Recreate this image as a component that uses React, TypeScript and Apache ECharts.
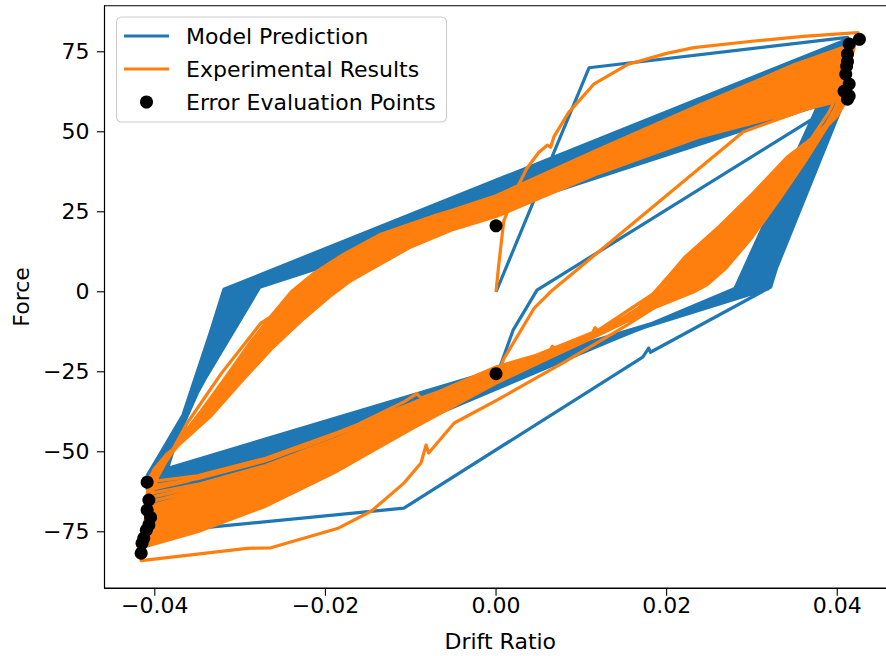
import React, { useEffect, useRef } from "react";
import * as echarts from "echarts";

type P = [number, number];

// ---------- axes ----------
const xRange = [-0.0459, 0.0469];
const yRange = [-92.6, 89.4];
const xTicks = [-0.04, -0.02, 0, 0.02, 0.04];
const yTicks = [-75, -50, -25, 0, 25, 50, 75];

// ---------- Model Prediction (blue) ----------
const modelInitial: P[] = [
  [0, 0], [0.0109, 70], [0.0412, 79.5], [0.0322, 1.5], [0.0181, -18.9], [0.0179, -17.6],
  [0.0172, -20.4], [-0.0108, -67.6], [-0.0409, -75.5],
];
const modelCycles: P[] = [
  [-0.0319, 0.8], [0.0413, 79], [0.028, 1.0], [-0.0415, -77],
  [-0.0318, 0.9], [0.0411, 78.3], [0.0282, 1.1], [-0.0414, -76.2],
  [-0.0316, 0.9], [0.0412, 77.6], [0.0283, 1.1], [-0.0414, -75.4],
  [-0.0314, 1.0], [0.0413, 76.9], [0.0285, 1.0], [-0.0413, -74.6],
  [-0.0313, 0.9], [0.0413, 76.2], [0.0286, 1.0], [-0.0412, -73.8],
  [-0.0311, 1.1], [0.0411, 75.6], [0.0288, 1.1], [-0.0411, -73],
  [-0.0309, 1.0], [0.0411, 74.9], [0.0289, 1.2], [-0.0411, -72.1],
  [-0.0308, 1.0], [0.0412, 74.2], [0.0291, 1.0], [-0.041, -71.3],
  [-0.0306, 1.1], [0.0412, 73.5], [0.0292, 1.1], [-0.041, -70.5],
  [-0.0305, 1.2], [0.0411, 72.8], [0.0294, 1.0], [-0.0409, -69.7],
  [-0.0303, 1.0], [0.041, 72.1], [0.0295, 1.0], [-0.0408, -68.9],
  [-0.0302, 1.1], [0.0412, 71.4], [0.0297, 0.9], [-0.0409, -68.1],
  [-0.03, 1.2], [0.0413, 70.7], [0.0298, 1.1], [-0.0409, -67.3],
  [-0.0298, 1.1], [0.0412, 70], [0.03, 1.0], [-0.0408, -66.5],
  [-0.0296, 1.1], [0.0411, 69.3], [0.0301, 0.9], [-0.0407, -65.6],
  [-0.0295, 1.2], [0.0412, 68.7], [0.0303, 1.0], [-0.0408, -64.8],
  [-0.0293, 1.2], [0.0414, 68], [0.0304, 1.0], [-0.0409, -64],
  [-0.0292, 1.3], [0.0412, 67.3], [0.0306, 0.9], [-0.0408, -63.2],
  [-0.029, 1.3], [0.0411, 66.6], [0.0307, 0.9], [-0.0408, -62.4],
  [-0.0289, 1.2], [0.0411, 65.9], [0.0309, 1.0], [-0.0409, -61.6],
  [-0.0287, 1.2], [0.041, 65.2], [0.031, 1.0], [-0.0409, -60.8],
  [-0.0285, 1.3], [0.0411, 64.5], [0.0312, 0.9], [-0.0408, -60],
  [-0.0283, 1.3], [0.0412, 63.8], [0.0313, 0.9], [-0.0408, -59.1],
  [-0.0282, 1.4], [0.0412, 63.1], [0.0315, 0.8], [-0.0409, -58.3],
  [-0.028, 1.4], [0.0411, 62.4], [0.0316, 0.8], [-0.0409, -57.5],
  [-0.0279, 1.3], [0.0411, 61.7], [0.0318, 0.9], [-0.0408, -57],
  [-0.0277, 1.4], [0.041, 61], [0.0319, 0.9],
];
const modelFinal: P[] = [
  [0.0002, -25.4], [0.002, -12], [0.0048, 0.5], [0.0367, 53.3], [0.0405, 59.5],
];

// ---------- Experimental Results (orange) ----------
const expVirgin: P[] = [
  [0, 0], [0.0003, 8], [0.0009, 22], [0.0022, 31], [0.0036, 38.5], [0.005, 43.5], [0.006, 45.8],
  [0.0064, 45.2], [0.0068, 48.5], [0.0085, 56], [0.0115, 65], [0.0154, 71], [0.02, 74.5],
  [0.0232, 76.3], [0.03, 78.3], [0.036, 79.8], [0.0424, 81],
];
const expFirst: P[] = [
  [0.0412, 68], [0.039, 56], [0.0355, 42], [0.0312, 26], [0.0272, 12], [0.024, 3.5], [0.0215, 0],
  [0.015, -11], [0.008, -22], [0.003, -29.5], [0, -34], [-0.0049, -41], [-0.0079, -50.4],
  [-0.0082, -47.9], [-0.0088, -53.5], [-0.0108, -59.8], [-0.0146, -68.5], [-0.0186, -74],
  [-0.0264, -80], [-0.0292, -80.2], [-0.035, -82], [-0.0416, -84], [-0.041, -72], [-0.0401, -60],
  [-0.0362, -41], [-0.0322, -25.5], [-0.0276, -9.9], [-0.024, -3.6], [-0.021, 0.5], [-0.0185, 6],
  [-0.0163, 13.5], [-0.0108, 20.5], [0, 30], [0.012, 44.5], [0.024, 58.5], [0.035, 71],
];
const expLoop0: P[] = [
  [0.0414, 77], [0.0405, 62], [0.039, 52.5], [0.0363, 41], [0.0334, 29.6], [0.03, 17], [0.027, 7.5],
  [0.0248, 2.3], [0.0232, 0], [0.019, -4.5], [0.012, -13.5], [0.0064, -20.5], [0, -28.5],
  [-0.01, -43], [-0.0186, -56], [-0.027, -67], [-0.035, -75], [-0.0416, -80], [-0.041, -70],
  [-0.0398, -58], [-0.0375, -47.5], [-0.0345, -37], [-0.0319, -27.5], [-0.029, -16.5],
  [-0.0262, -7], [-0.024, 0], [-0.0215, 5.5], [-0.018, 11.5], [-0.0135, 18], [-0.007, 24],
  [0, 29.5], [0.012, 43.5], [0.024, 58], [0.034, 69.5],
];
const expLoop0h: P[] = [
  [0.0413, 76.2], [0.0405, 61.7], [0.0389, 52.4], [0.0362, 41.1], [0.0332, 29.7], [0.0298, 17.2],
  [0.0267, 7.7], [0.0245, 2.3], [0.0229, 0], [0.0188, -4.6], [0.012, -13.5], [0.0064, -20.4],
  [0, -28.3], [-0.01, -42.6], [-0.0186, -55.4], [-0.027, -66.3], [-0.035, -74.1], [-0.0416, -79.3],
  [-0.041, -69.3], [-0.0398, -57.7], [-0.0375, -47.4], [-0.0345, -37.1], [-0.0318, -27.6],
  [-0.0289, -16.6], [-0.0261, -7.1], [-0.0238, -0.1], [-0.0213, 5.4], [-0.0178, 11.4],
  [-0.0134, 17.8], [-0.0069, 23.8], [0, 29.2], [0.012, 43.2], [0.024, 57.6], [0.034, 68.9],
];
const expLoop1: P[] = [
  [0.0412, 75.3], [0.0405, 61.4], [0.0389, 52.2], [0.0361, 41.1], [0.0331, 29.7], [0.0296, 17.4],
  [0.0265, 7.9], [0.0243, 2.4], [0.0227, 0], [0.0187, -4.8], [0.012, -13.4], [0.0064, -20.3],
  [0, -28], [-0.01, -42.2], [-0.0186, -54.8], [-0.027, -65.5], [-0.035, -73.3], [-0.0415, -78.5],
  [-0.0409, -68.6], [-0.0397, -57.3], [-0.0374, -47.3], [-0.0344, -37.2], [-0.0317, -27.6],
  [-0.0287, -16.6], [-0.0259, -7.2], [-0.0236, -0.2], [-0.0211, 5.3], [-0.0176, 11.2],
  [-0.0132, 17.6], [-0.0068, 23.6], [0, 28.9], [0.012, 42.9], [0.024, 57.1], [0.034, 68.2],
];
const expLoop1h: P[] = [
  [0.0412, 74.5], [0.0404, 61.1], [0.0388, 52.1], [0.036, 41.2], [0.0329, 29.8], [0.0294, 17.6],
  [0.0262, 8.1], [0.024, 2.5], [0.0225, 0], [0.0185, -4.9], [0.012, -13.4], [0.0064, -20.2],
  [0, -27.8], [-0.01, -41.8], [-0.0186, -54.2], [-0.027, -64.8], [-0.035, -72.4], [-0.0414, -77.7],
  [-0.0409, -67.9], [-0.0396, -56.9], [-0.0373, -47.2], [-0.0344, -37.3], [-0.0316, -27.7],
  [-0.0286, -16.7], [-0.0257, -7.3], [-0.0234, -0.3], [-0.0209, 5.2], [-0.0174, 11],
  [-0.013, 17.4], [-0.0067, 23.4], [0, 28.6], [0.012, 42.6], [0.024, 56.6], [0.034, 67.4],
];
const expLoop2: P[] = [
  [0.0413, 73.6], [0.0404, 60.7], [0.0388, 51.9], [0.0359, 41.2], [0.0328, 29.9], [0.0292, 17.7],
  [0.026, 8.2], [0.0238, 2.5], [0.0223, 0], [0.0184, -5], [0.012, -13.3], [0.0064, -20.1],
  [0, -27.5], [-0.01, -41.4], [-0.0186, -53.6], [-0.027, -64], [-0.035, -71.5], [-0.0413, -77],
  [-0.0408, -67.1], [-0.0395, -56.5], [-0.0372, -47.1], [-0.0343, -37.4], [-0.0315, -27.7],
  [-0.0284, -16.7], [-0.0255, -7.4], [-0.0231, -0.3], [-0.0206, 5.1], [-0.0172, 10.8],
  [-0.0128, 17.2], [-0.0066, 23.1], [0, 28.3], [0.012, 42.2], [0.024, 56.1], [0.034, 66.7],
];
const expLoop2h: P[] = [
  [0.0412, 72.8], [0.0404, 60.4], [0.0387, 51.8], [0.0357, 41.3], [0.0326, 30], [0.029, 17.9],
  [0.0258, 8.4], [0.0235, 2.6], [0.022, 0], [0.0182, -5.1], [0.012, -13.2], [0.0064, -20],
  [0, -27.3], [-0.01, -41], [-0.0186, -53], [-0.027, -63.3], [-0.035, -70.7], [-0.0412, -76],
  [-0.0408, -66.4], [-0.0395, -56.2], [-0.0372, -47], [-0.0343, -37.5], [-0.0314, -27.8],
  [-0.0283, -16.8], [-0.0254, -7.5], [-0.0229, -0.4], [-0.0204, 5], [-0.017, 10.7],
  [-0.0127, 17], [-0.0065, 22.9], [0, 28], [0.012, 41.9], [0.024, 55.7], [0.034, 66.1],
];
const expLoop3: P[] = [
  [0.0411, 71.9], [0.0404, 60.1], [0.0386, 51.6], [0.0356, 41.3], [0.0324, 30], [0.0289, 18.1],
  [0.0256, 8.6], [0.0233, 2.7], [0.0218, 0], [0.0181, -5.3], [0.012, -13.2], [0.0064, -19.9],
  [0, -27], [-0.01, -40.6], [-0.0186, -52.4], [-0.027, -62.5], [-0.035, -69.8], [-0.0411, -75],
  [-0.0407, -65.7], [-0.0394, -55.8], [-0.0371, -46.9], [-0.0342, -37.6], [-0.0313, -27.8],
  [-0.0282, -16.8], [-0.0252, -7.6], [-0.0227, -0.5], [-0.0202, 4.9], [-0.0168, 10.5],
  [-0.0125, 16.8], [-0.0064, 22.7], [0, 27.7], [0.012, 41.6], [0.024, 55.2], [0.034, 65.4],
];
const expLoop3h: P[] = [
  [0.0413, 71], [0.0403, 59.8], [0.0385, 51.5], [0.0355, 41.4], [0.0322, 30.1], [0.0287, 18.3],
  [0.0253, 8.8], [0.023, 2.7], [0.0216, 0], [0.0179, -5.4], [0.012, -13.1], [0.0064, -19.8],
  [0, -26.8], [-0.01, -40.2], [-0.0186, -51.8], [-0.027, -61.8], [-0.035, -68.9], [-0.041, -74],
  [-0.0407, -65], [-0.0394, -55.4], [-0.0371, -46.8], [-0.0342, -37.7], [-0.0312, -27.9],
  [-0.0281, -16.9], [-0.025, -7.7], [-0.0225, -0.6], [-0.02, 4.8], [-0.0166, 10.3],
  [-0.0123, 16.6], [-0.0063, 22.5], [0, 27.4], [0.012, 41.3], [0.024, 54.7], [0.034, 64.6],
];
const expLoop4: P[] = [
  [0.0412, 70.2], [0.0403, 59.4], [0.0385, 51.3], [0.0354, 41.4], [0.0321, 30.2], [0.0285, 18.4],
  [0.0251, 8.9], [0.0228, 2.8], [0.0214, 0], [0.0178, -5.5], [0.012, -13.1], [0.0064, -19.7],
  [0, -26.5], [-0.01, -39.8], [-0.0186, -51.2], [-0.027, -61], [-0.035, -68], [-0.041, -73],
  [-0.0406, -64.2], [-0.0393, -55], [-0.037, -46.7], [-0.0341, -37.8], [-0.0311, -27.9],
  [-0.0279, -16.9], [-0.0248, -7.8], [-0.0222, -0.6], [-0.0197, 4.7], [-0.0164, 10.1],
  [-0.0121, 16.4], [-0.0062, 22.2], [0, 27.1], [0.012, 40.9], [0.024, 54.2], [0.034, 63.9],
];
const expLoop4h: P[] = [
  [0.0411, 69.3], [0.0403, 59.1], [0.0384, 51.2], [0.0353, 41.5], [0.0319, 30.3], [0.0283, 18.6],
  [0.0248, 9.1], [0.0225, 2.9], [0.0211, 0], [0.0176, -5.6], [0.012, -13], [0.0064, -19.6],
  [0, -26.3], [-0.01, -39.4], [-0.0186, -50.6], [-0.027, -60.3], [-0.035, -67.2], [-0.0409, -72],
  [-0.0406, -63.5], [-0.0393, -54.7], [-0.037, -46.6], [-0.0341, -37.9], [-0.0311, -28],
  [-0.0278, -17], [-0.0247, -7.9], [-0.022, -0.7], [-0.0195, 4.6], [-0.0162, 10],
  [-0.012, 16.2], [-0.0061, 22], [0, 26.8], [0.012, 40.6], [0.024, 53.8], [0.034, 63.3],
];
const expLoop5: P[] = [
  [0.041, 68.5], [0.0403, 58.8], [0.0384, 51], [0.0352, 41.5], [0.0318, 30.3], [0.0281, 18.8],
  [0.0246, 9.3], [0.0223, 2.9], [0.0209, 0], [0.0175, -5.8], [0.012, -13], [0.0064, -19.5],
  [0, -26], [-0.01, -39], [-0.0186, -50], [-0.027, -59.5], [-0.035, -66.3], [-0.0408, -71],
  [-0.0406, -62.8], [-0.0392, -54.3], [-0.0369, -46.5], [-0.034, -38], [-0.031, -28],
  [-0.0276, -17], [-0.0245, -8], [-0.0218, -0.8], [-0.0193, 4.5], [-0.016, 9.8],
  [-0.0118, 16], [-0.006, 21.8], [0, 26.5], [0.012, 40.3], [0.024, 53.3], [0.034, 62.6],
];
const expLoop5h: P[] = [
  [0.0412, 67.6], [0.0402, 58.5], [0.0383, 50.9], [0.0351, 41.6], [0.0316, 30.4], [0.0279, 19],
  [0.0243, 9.5], [0.022, 3], [0.0206, 0], [0.0173, -5.9], [0.012, -13], [0.0064, -19.4],
  [0, -25.8], [-0.01, -38.6], [-0.0186, -49.4], [-0.027, -58.8], [-0.035, -65.4], [-0.0409, -70],
  [-0.0405, -62.1], [-0.0391, -53.9], [-0.0368, -46.4], [-0.034, -38.1], [-0.0309, -28.1],
  [-0.0275, -17.1], [-0.0244, -8.1], [-0.0216, -0.9], [-0.0191, 4.4], [-0.0158, 9.6],
  [-0.0116, 15.8], [-0.0059, 21.6], [0, 26.2], [0.012, 40], [0.024, 52.8], [0.034, 61.8],
];
const expLoop6: P[] = [
  [0.0413, 66.8], [0.0402, 58.1], [0.0383, 50.7], [0.035, 41.6], [0.0315, 30.4], [0.0277, 19.1],
  [0.0241, 9.6], [0.0218, 3], [0.0204, 0], [0.0172, -6], [0.012, -12.9], [0.0064, -19.3],
  [0, -25.5], [-0.01, -38.2], [-0.0186, -48.8], [-0.027, -58], [-0.035, -64.5], [-0.0409, -69],
  [-0.0405, -61.3], [-0.039, -53.5], [-0.0367, -46.3], [-0.0339, -38.2], [-0.0308, -28.1],
  [-0.0273, -17.1], [-0.0242, -8.2], [-0.0213, -0.9], [-0.0188, 4.3], [-0.0156, 9.4],
  [-0.0114, 15.6], [-0.0058, 21.3], [0, 25.9], [0.012, 39.6], [0.024, 52.3], [0.034, 61.1],
];
const expLoop6h: P[] = [
  [0.0412, 66], [0.0402, 57.8], [0.0382, 50.6], [0.0349, 41.7], [0.0313, 30.5], [0.0275, 19.3],
  [0.0238, 9.8], [0.0215, 3.1], [0.0202, 0], [0.017, -6.1], [0.012, -12.9], [0.0064, -19.2],
  [0, -25.3], [-0.01, -37.8], [-0.0186, -48.2], [-0.027, -57.3], [-0.035, -63.7], [-0.0408, -68],
  [-0.0405, -60.6], [-0.039, -53.2], [-0.0367, -46.2], [-0.0339, -38.3], [-0.0307, -28.2],
  [-0.0272, -17.2], [-0.024, -8.3], [-0.0211, -1], [-0.0186, 4.2], [-0.0154, 9.3],
  [-0.0113, 15.4], [-0.0057, 21.1], [0, 25.6], [0.012, 39.3], [0.024, 51.9], [0.034, 60.5],
];
const expLoop7: P[] = [
  [0.0411, 65.1], [0.0402, 57.5], [0.0382, 50.4], [0.0348, 41.7], [0.0312, 30.6], [0.0273, 19.5],
  [0.0236, 10], [0.0213, 3.1], [0.02, 0], [0.0169, -6.3], [0.012, -12.8], [0.0064, -19.1],
  [0, -25], [-0.01, -37.4], [-0.0186, -47.6], [-0.027, -56.5], [-0.035, -62.8], [-0.0407, -67],
  [-0.0404, -59.9], [-0.0389, -52.8], [-0.0366, -46.1], [-0.0338, -38.4], [-0.0306, -28.2],
  [-0.027, -17.2], [-0.0238, -8.4], [-0.0209, -1.1], [-0.0184, 4.1], [-0.0152, 9.1],
  [-0.0111, 15.2], [-0.0056, 20.9], [0, 25.3], [0.012, 39], [0.024, 51.4], [0.034, 59.8],
];
const expLoop7h: P[] = [
  [0.0413, 64.2], [0.0401, 57.2], [0.0381, 50.3], [0.0346, 41.8], [0.031, 30.7], [0.0271, 19.7],
  [0.0234, 10.2], [0.021, 3.2], [0.0197, 0], [0.0167, -6.4], [0.012, -12.8], [0.0064, -19],
  [0, -24.8], [-0.01, -37], [-0.0186, -47], [-0.027, -55.8], [-0.035, -61.9], [-0.0408, -65.8],
  [-0.0404, -59.2], [-0.0389, -52.4], [-0.0366, -46], [-0.0338, -38.5], [-0.0305, -28.3],
  [-0.0269, -17.3], [-0.0237, -8.5], [-0.0207, -1.2], [-0.0182, 4], [-0.015, 8.9],
  [-0.0109, 15], [-0.0055, 20.7], [0, 25], [0.012, 38.7], [0.024, 50.9], [0.034, 59],
];
const expLoop8: P[] = [
  [0.0414, 63.4], [0.0401, 56.8], [0.038, 50.1], [0.0345, 41.8], [0.0308, 30.7], [0.027, 19.8],
  [0.0232, 10.3], [0.0208, 3.3], [0.0195, 0], [0.0166, -6.5], [0.012, -12.7], [0.0064, -18.9],
  [0, -24.5], [-0.01, -36.6], [-0.0186, -46.4], [-0.027, -55], [-0.035, -61], [-0.0409, -64.5],
  [-0.0403, -58.4], [-0.0388, -52], [-0.0365, -45.9], [-0.0337, -38.6], [-0.0304, -28.3],
  [-0.0268, -17.3], [-0.0235, -8.6], [-0.0204, -1.2], [-0.0179, 3.9], [-0.0148, 8.7],
  [-0.0107, 14.8], [-0.0054, 20.4], [0, 24.7], [0.012, 38.3], [0.024, 50.4], [0.034, 58.3],
];
const expLoop8h: P[] = [
  [0.0412, 62.5], [0.0401, 56.5], [0.0379, 50], [0.0344, 41.9], [0.0306, 30.8], [0.0268, 20],
  [0.0229, 10.5], [0.0205, 3.3], [0.0193, 0], [0.0164, -6.6], [0.012, -12.7], [0.0064, -18.8],
  [0, -24.3], [-0.01, -36.2], [-0.0186, -45.8], [-0.027, -54.3], [-0.035, -60.2], [-0.0409, -63.2],
  [-0.0403, -57.7], [-0.0387, -51.7], [-0.0364, -45.8], [-0.0337, -38.7], [-0.0303, -28.4],
  [-0.0267, -17.4], [-0.0233, -8.7], [-0.0202, -1.3], [-0.0177, 3.8], [-0.0146, 8.6],
  [-0.0106, 14.6], [-0.0053, 20.2], [0, 24.4], [0.012, 38], [0.024, 50], [0.034, 57.7],
];
const expLoop9: P[] = [
  [0.0411, 61.7], [0.0401, 56.2], [0.0379, 49.8], [0.0343, 41.9], [0.0305, 30.9], [0.0266, 20.2],
  [0.0227, 10.7], [0.0203, 3.4], [0.0195, -0.8], [0.019, 1.2], [0.0186, -1.8], [0.015, -8],
  [0.012, -12.4], [0.0116, -11.2], [0.0112, -13.5], [0.007, -17.8], [0.0066, -17], [0.0062, -19],
  [0, -24.8], [-0.0088, -33.2], [-0.0093, -31.8], [-0.0096, -32.4], [-0.0108, -34.4],
  [-0.0186, -44.6], [-0.0225, -48.6], [-0.0284, -53.6], [-0.031, -55.2], [-0.036, -59],
  [-0.0408, -62], [-0.0402, -57], [-0.0386, -51.3], [-0.0363, -45.7], [-0.0336, -38.8],
  [-0.0302, -28.4], [-0.0265, -17.4], [-0.0231, -8.8], [-0.02, -1.4], [-0.0175, 3.7],
  [-0.0144, 8.4], [-0.0104, 14.4], [-0.0052, 20], [0, 24.1], [0.012, 37.7], [0.024, 49.5],
  [0.034, 57],
];
const expLoop9h: P[] = [
  [0.0411, 60.9], [0.04, 55.9], [0.0378, 49.7], [0.0342, 42], [0.0303, 31], [0.0264, 20.4],
  [0.0224, 10.9], [0.02, 3.5], [0.0188, 0], [0.0161, -6.9], [0.012, -12.6], [0.0064, -18.6],
  [0, -23.8], [-0.01, -35.4], [-0.0186, -44.6], [-0.027, -52.8], [-0.035, -58.4], [-0.0408, -60.8],
  [-0.0402, -56.3], [-0.0386, -50.9], [-0.0363, -45.6], [-0.0336, -38.9], [-0.0301, -28.5],
  [-0.0264, -17.5], [-0.023, -8.9], [-0.0198, -1.5], [-0.0173, 3.6], [-0.0142, 8.2],
  [-0.0102, 14.2], [-0.0051, 19.8], [0, 23.8], [0.012, 37.4], [0.024, 49], [0.034, 56.2],
];
const expLoop10: P[] = [
  [0.041, 60], [0.04, 55.5], [0.0378, 49.5], [0.0341, 42], [0.0302, 31], [0.0262, 20.5],
  [0.0222, 11], [0.0198, 3.5], [0.0186, 0], [0.016, -7], [0.012, -12.5], [0.0064, -18.5],
  [0, -23.5], [-0.01, -35], [-0.0186, -44], [-0.027, -52], [-0.035, -57.5], [-0.0409, -59.5],
  [-0.0401, -55.5], [-0.0385, -50.5], [-0.0362, -45.5], [-0.0335, -39], [-0.03, -28.5],
  [-0.0262, -17.5], [-0.0228, -9], [-0.0195, -1.5], [-0.017, 3.5], [-0.014, 8], [-0.01, 14],
  [-0.005, 19.5], [0, 23.5], [0.012, 37], [0.024, 48.5], [0.034, 55.5],
];
const expFinal: P[] = [
  [0.0412, 60.3], [0.04, 55], [0.0378, 49], [0.034, 41], [0.0303, 30.5], [0.0262, 20],
  [0.0222, 10.5], [0.0196, 3], [0.0185, -0.5], [0.012, -12], [0.005, -19.5], [0.0004, -24.8],
  [0.0009, -21], [0.0045, -5], [0.0066, 0.5], [0.029, 50], [0.0405, 61],
];

// ---------- Error Evaluation Points (black) ----------
const errPos: P[] = [
  [0.0426, 78.9], [0.0414, 77.4], [0.0412, 74.3], [0.0412, 72.0], [0.0411, 70.5], [0.041, 68.0],
  [0.0414, 64.9], [0.0408, 62.7], [0.0414, 61.2], [0.0412, 60.2],
];
const errNeg: P[] = [
  [-0.0409, -59.5], [-0.0407, -65.1], [-0.0409, -68.2], [-0.0405, -70.5], [-0.0407, -72.9],
  [-0.041, -74.5], [-0.0413, -77.0], [-0.0415, -78.6], [-0.0416, -81.7],
];
const errMid: P[] = [[0, 20.6], [0, -25.6]];

const BLUE = "#1f77b4";
const ORANGE = "#ff7f0e";
const FONT = "DejaVu Sans";
const LW = 3.2;
const TICK_LEN = 7.7;
const TICK_W = 1.1;

const minus = (s: string) => s.replace("-", "\u2212");

const legendGraphics = [
  {
    type: "rect",
    z: 100,
    shape: { x: 116.5, y: 17, width: 330, height: 105, r: 5 },
    style: { fill: "rgba(255,255,255,0.8)", stroke: "#cccccc", lineWidth: 1.1 },
  },
  { type: "line", z: 101, shape: { x1: 124, y1: 36, x2: 169, y2: 36 }, style: { stroke: BLUE, lineWidth: LW } },
  {
    type: "text", z: 101, x: 186, y: 36,
    style: { text: "Model Prediction", fontFamily: FONT, fontSize: 22, fill: "#000", verticalAlign: "middle" },
  },
  { type: "line", z: 101, shape: { x1: 124, y1: 69, x2: 169, y2: 69 }, style: { stroke: ORANGE, lineWidth: LW } },
  {
    type: "text", z: 101, x: 186, y: 69,
    style: { text: "Experimental Results", fontFamily: FONT, fontSize: 22, fill: "#000", verticalAlign: "middle" },
  },
  { type: "circle", z: 101, shape: { cx: 146.5, cy: 102, r: 6.5 }, style: { fill: "#000" } },
  {
    type: "text", z: 101, x: 186, y: 102,
    style: { text: "Error Evaluation Points", fontFamily: FONT, fontSize: 22, fill: "#000", verticalAlign: "middle" },
  },
];

export default function App() {
  const ref = useRef<HTMLDivElement>(null);

  useEffect(() => {
    if (!ref.current) return;
    const chart = echarts.init(ref.current, null, { renderer: "svg" });
    const modelData = [...modelInitial, ...modelCycles, ...modelFinal];
    const expData = [
      ...expVirgin, ...expFirst,
      ...expLoop0, ...expLoop0h, ...expLoop1, ...expLoop1h, ...expLoop2, ...expLoop2h,
      ...expLoop3, ...expLoop3h, ...expLoop4, ...expLoop4h, ...expLoop5, ...expLoop5h,
      ...expLoop6, ...expLoop6h, ...expLoop7, ...expLoop7h, ...expLoop8, ...expLoop8h,
      ...expLoop9, ...expLoop9h, ...expLoop10, ...expFinal,
    ];
    const errData = [...errPos, ...errNeg, ...errMid];
    const xTickMarks = xTicks.map((v) => [v, yRange[0]]);
    const yTickMarks = yTicks.map((v) => [xRange[0], v]);

    const textStyle = { fontFamily: FONT, fontSize: 22, color: "#000" };
    const axisLine = { show: true, onZero: false, lineStyle: { color: "#000", width: 1.1 } };

    chart.setOption({
      animation: false,
      backgroundColor: "#fff",
      grid: {
        left: 104.5,
        top: 5.7,
        width: 791.6,
        height: 582.4,
        show: true,
        borderColor: "#000",
        borderWidth: 1.1,
        backgroundColor: "transparent",
        outerBoundsMode: "none",
        containLabel: false,
      },
      xAxis: {
        type: "value",
        position: "bottom",
        min: xRange[0],
        max: xRange[1],
        name: "Drift Ratio",
        nameLocation: "middle",
        nameGap: 42,
        nameTextStyle: textStyle,
        axisLine,
        axisTick: { show: false },
        axisLabel: {
          ...textStyle,
          margin: 6,
          customValues: xTicks,
          formatter: (v: number) => minus(v.toFixed(2)),
        },
        splitLine: { show: false },
      },
      yAxis: {
        type: "value",
        position: "left",
        min: yRange[0],
        max: yRange[1],
        name: "Force",
        nameLocation: "middle",
        nameGap: 65,
        nameRotate: 90,
        nameTextStyle: textStyle,
        axisLine,
        axisTick: { show: false },
        axisLabel: {
          ...textStyle,
          margin: 15,
          customValues: yTicks,
          formatter: (v: number) => minus(String(Math.round(v))),
        },
        splitLine: { show: false },
      },
      series: [
        {
          name: "Model Prediction",
          type: "line",
          data: modelData,
          showSymbol: false,
          symbol: "none",
          silent: true,
          lineStyle: { color: BLUE, width: LW, join: "round", cap: "butt" },
          z: 2,
        },
        {
          name: "Experimental Results",
          type: "line",
          data: expData,
          showSymbol: false,
          symbol: "none",
          silent: true,
          lineStyle: { color: ORANGE, width: LW, join: "round", cap: "butt" },
          z: 3,
        },
        {
          name: "Error Evaluation Points",
          type: "scatter",
          data: errData,
          symbol: "circle",
          symbolSize: 13,
          silent: true,
          itemStyle: { color: "#000", opacity: 1 },
          z: 4,
        },
        {
          name: "x ticks",
          type: "scatter",
          data: xTickMarks,
          symbol: "rect",
          symbolSize: [TICK_W, TICK_LEN],
          symbolOffset: [0, TICK_LEN / 2],
          clip: false,
          silent: true,
          itemStyle: { color: "#000", opacity: 1 },
          z: 5,
        },
        {
          name: "y ticks",
          type: "scatter",
          data: yTickMarks,
          symbol: "rect",
          symbolSize: [TICK_LEN, TICK_W],
          symbolOffset: [-TICK_LEN / 2, 0],
          clip: false,
          silent: true,
          itemStyle: { color: "#000", opacity: 1 },
          z: 5,
        },
      ],
      graphic: legendGraphics,
    });
    return () => chart.dispose();
  }, []);

  return (
    <div
      style={{
        position: "fixed",
        left: 0,
        top: 0,
        width: 886,
        height: 656,
        overflow: "hidden",
        background: "#fff",
      }}
    >
      <div ref={ref} style={{ width: 900, height: 656 }} />
    </div>
  );
}
